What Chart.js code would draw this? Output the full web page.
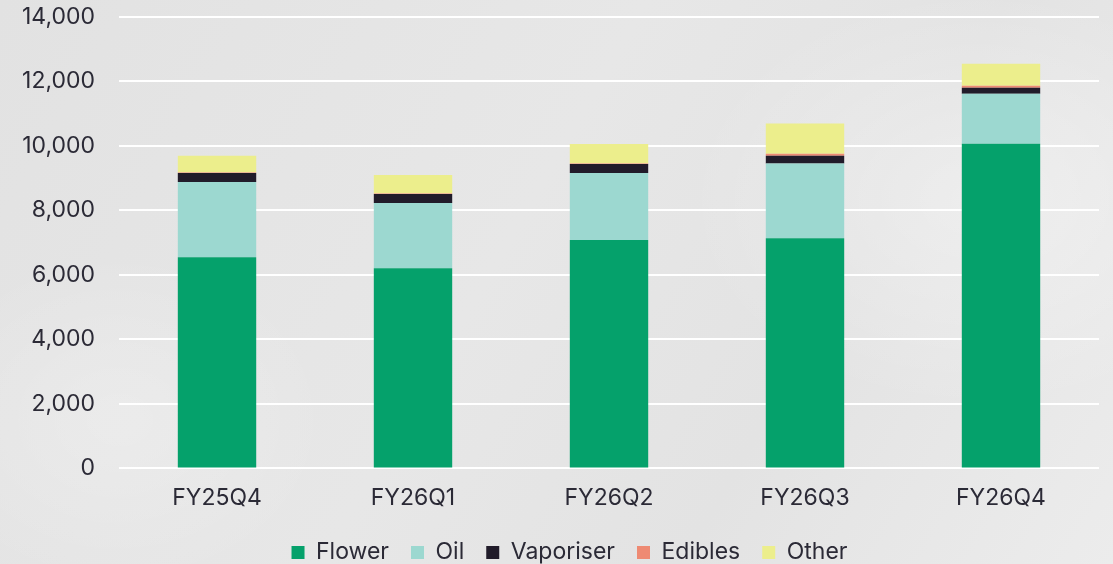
<!DOCTYPE html>
<html>
<head>
<meta charset="utf-8">
<script src="https://cdn.jsdelivr.net/npm/chart.js@4"></script>
<style>
  html, body { margin: 0; padding: 0; }
  body {
    width: 1113px; height: 564px; overflow: hidden;
    background:
      radial-gradient(ellipse 420px 300px at 980px 200px, rgba(255,255,255,0.35), rgba(255,255,255,0) 70%),
      radial-gradient(ellipse 300px 240px at 120px 420px, rgba(255,255,255,0.25), rgba(255,255,255,0) 70%),
      linear-gradient(120deg, #e2e2e2 0%, #e7e7e7 45%, #e3e3e3 70%, #ececec 100%);
  }
  #wrap { position: relative; width: 1113px; height: 564px; }
</style>
</head>
<body>
<div id="wrap"><canvas id="salesChart"></canvas></div>
<script>
const quarters = ["FY25Q4", "FY26Q1", "FY26Q2", "FY26Q3", "FY26Q4"];
const flower = [6550, 6210, 7080, 7140, 10070];
const oil = [2330, 2020, 2080, 2320, 1550];
const vaporiser = [280, 280, 280, 235, 185];
const edibles = [15, 15, 20, 60, 60];
const other = [520, 575, 600, 945, 685];
const yTicks = [0, 2000, 4000, 6000, 8000, 10000, 12000, 14000];

const textColor = "#2b2a36";
const font = { family: "Inter", size: 23 };

function series(label, data, color) {
  return {
    label,
    data,
    backgroundColor: color,
    borderWidth: 0,
    barPercentage: 0.5,
    categoryPercentage: 0.8,
  };
}

// legend sits a little right of centre in the original
const nudgeLegend = {
  id: "nudgeLegend",
  afterLayout(chart) {
    chart.legend.left += 21;
    chart.legend.right += 21;
  },
};

new Chart(document.getElementById("salesChart"), {
  type: "bar",
  data: {
    labels: quarters,
    datasets: [
      series("Flower", flower, "#05a16b"),
      series("Oil", oil, "#9cd8d0"),
      series("Vaporiser", vaporiser, "#211c2a"),
      series("Edibles", edibles, "#ee8a73"),
      series("Other", other, "#ecee8c"),
    ],
  },
  plugins: [nudgeLegend],
  options: {
    responsive: true,
    maintainAspectRatio: false,
    animation: false,
    layout: { padding: { top: 17, right: 14, left: -2, bottom: -10 } },
    plugins: {
      legend: {
        position: "bottom",
        labels: {
          color: textColor,
          font,
          boxWidth: 13,
          boxHeight: 13,
          padding: 22,
        },
      },
      tooltip: { enabled: false },
    },
    scales: {
      x: {
        stacked: true,
        grid: { display: false },
        border: { display: false },
        ticks: { color: textColor, font, padding: 8 },
        afterFit: (scale) => {
          scale.height -= 1;
        },
      },
      y: {
        stacked: true,
        min: 0,
        max: 14000,
        afterBuildTicks: (axis) => {
          axis.ticks = yTicks.map((v) => ({ value: v }));
        },
        afterFit: (scale) => {
          scale.paddingTop = 0;
          scale.paddingBottom = 0;
        },
        grid: { color: "#ffffff", lineWidth: 2, drawTicks: false },
        border: { display: false },
        ticks: {
          color: textColor,
          font,
          padding: 24,
          callback: (v) => v.toLocaleString("en-US"),
        },
      },
    },
  },
});
</script>
</body>
</html>
